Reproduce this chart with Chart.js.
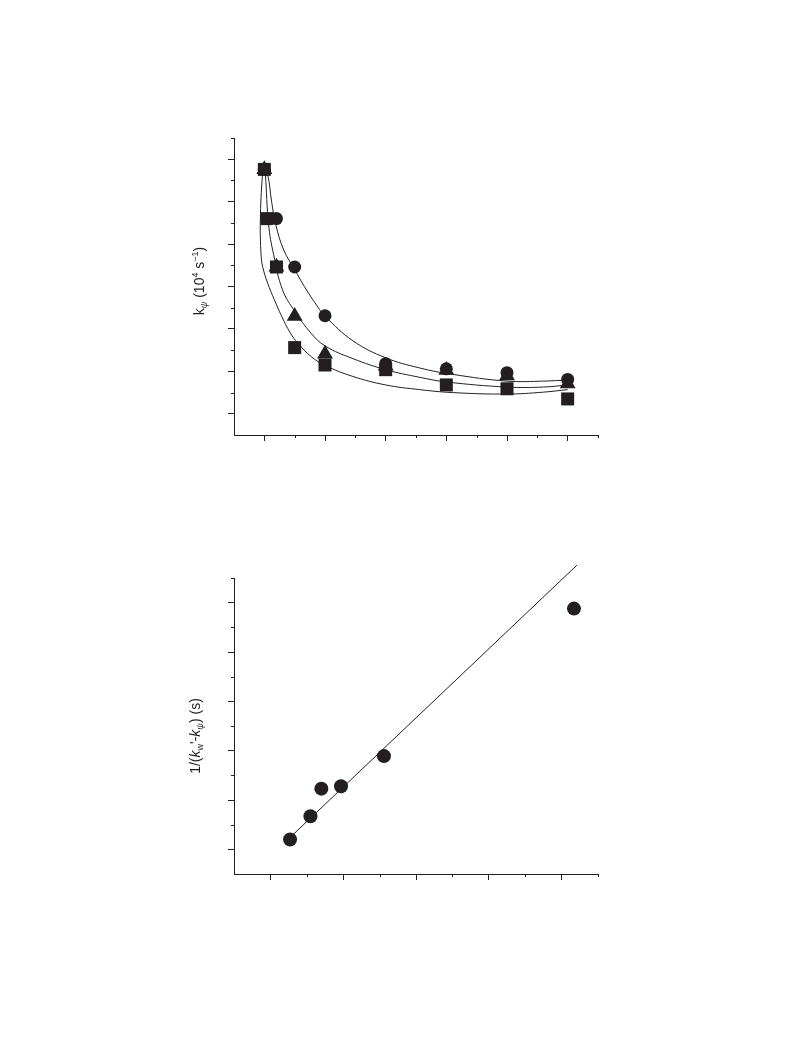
<!DOCTYPE html>
<html>
<head>
<meta charset="utf-8">
<script src="https://cdn.jsdelivr.net/npm/chart.js@4.4.1/dist/chart.umd.min.js"></script>
<style>
  html, body { margin: 0; padding: 0; background: #fff; }
  body { width: 792px; height: 1056px; position: relative; overflow: hidden;
         font-family: "Liberation Sans", Arial, sans-serif; }
  .panel { position: absolute; left: 0; width: 792px; height: 500px; }
  .ylab { position: absolute; white-space: nowrap; font-size: 14px; line-height: 1; color: #231f20;
          transform: translate(-50%, -50%) rotate(-90deg); }
  .ylab sub, .ylab sup { font-size: 9px; line-height: 0; }
  .ylab sub { vertical-align: -3px; }
  .ylab sup { vertical-align: 6px; }
</style>
</head>
<body>
<div class="panel" style="top:0"><canvas id="rateChart" width="792" height="500"></canvas></div>
<div class="panel" style="top:500px"><canvas id="recipChart" width="792" height="500"></canvas></div>
<div class="ylab" style="left:199px;top:281px">k<sub><i>ψ</i></sub> (10<sup>4</sup> s<sup>−1</sup>)</div>
<div class="ylab" style="left:195px;top:736px">1/(<i>k</i><sub>w</sub>'-<i>k</i><sub><i>ψ</i></sub>) (s)</div>

<script>
// ---- upper panel: observed rate constants, three series ----
const circleX   = [0, 0.2, 0.5, 1, 2, 3, 4, 5];
const circleY   = [5.76, 4.60, 3.46, 2.31, 1.18, 1.06, 0.97, 0.81];
const triangleX = [0, 0.2, 0.5, 1, 2, 3, 4, 5];
const triangleY = [5.76, 3.46, 2.30, 1.41, 1.13, 1.03, 0.90, 0.71];
const squareX   = [0, 0.04, 0.2, 0.5, 1, 2, 3, 4, 5];
const squareY   = [5.76, 4.60, 3.46, 1.56, 1.15, 1.04, 0.68, 0.59, 0.35];

// fitted curves for each series
const circleFitX   = [0, 0.055, 0.12, 0.19, 0.32, 0.5, 0.66, 0.88, 1.0, 1.46, 2.0, 2.56, 3.1, 4.0, 4.6, 5.0];
const circleFitY   = [5.76, 5.64, 5.0, 4.45, 3.86, 3.40, 3.0, 2.52, 2.3, 1.72, 1.32, 1.08, 0.93, 0.77, 0.77, 0.80];
const triangleFitX = [0, 0.017, 0.07, 0.153, 0.3, 0.5, 0.77, 1.0, 1.46, 2.0, 2.56, 3.0, 4.0, 4.6, 5.0];
const triangleFitY = [5.76, 5.64, 4.46, 3.75, 2.92, 2.42, 1.90, 1.60, 1.30, 1.04, 0.86, 0.75, 0.63, 0.63, 0.68];
const squareFitX   = [0, -0.03, -0.066, -0.054, -0.028, 0.054, 0.165, 0.285, 0.43, 0.55, 0.77, 1.0, 1.46, 2.0, 2.56, 3.1, 4.0, 4.6, 5.0];
const squareFitY   = [5.76, 5.64, 4.54, 3.75, 3.47, 3.08, 2.69, 2.30, 1.90, 1.67, 1.35, 1.14, 0.88, 0.68, 0.57, 0.50, 0.465, 0.51, 0.57];

const rateMajorX = [0, 1, 2, 3, 4, 5];
const rateMinorX = [0.5, 1.5, 2.5, 3.5, 4.5, 5.5];
const rateMajorY = [0, 1, 2, 3, 4, 5, 6];
const rateMinorY = [0.5, 1.5, 2.5, 3.5, 4.5, 5.5, 6.5];

// ---- lower panel: reciprocal plot with linear fit ----
const recipX = [0.27, 0.55, 0.70, 0.97, 1.56, 4.17];
const recipY = [0.20, 0.67, 1.23, 1.28, 1.89, 4.88];
const lineX  = [0.27, 4.21];
const lineY  = [0.24, 5.76];

const recipMajorX = [0, 1, 2, 3, 4];
const recipMinorX = [0.5, 1.5, 2.5, 3.5, 4.5];
const recipMajorY = [0, 1, 2, 3, 4, 5];
const recipMinorY = [0.5, 1.5, 2.5, 3.5, 4.5, 5.5];

const INK = '#231f20';

const pts = (xs, ys) => xs.map((x, i) => ({ x, y: ys[i] }));

// short minor tick marks drawn outward from both axes
const minorTicks = {
  id: 'minorTicks',
  afterDraw(chart, args, opts) {
    const { ctx, chartArea } = chart;
    const xs = chart.scales.x, ys = chart.scales.y;
    ctx.save();
    ctx.strokeStyle = INK;
    ctx.lineWidth = 1;
    ctx.beginPath();
    opts.x.forEach(v => {
      const px = Math.round(xs.getPixelForValue(v)) + 0.5;
      ctx.moveTo(px, chartArea.bottom);
      ctx.lineTo(px, chartArea.bottom + opts.len);
    });
    opts.y.forEach(v => {
      const py = Math.round(ys.getPixelForValue(v)) + 0.5;
      ctx.moveTo(chartArea.left, py);
      ctx.lineTo(chartArea.left - opts.len, py);
    });
    ctx.stroke();
    ctx.restore();
  }
};

function axis(min, max, majors, isX) {
  return {
    type: 'linear',
    min, max,
    afterBuildTicks: s => { s.ticks = majors.map(v => ({ value: v })); },
    afterFit: s => { if (isX) s.height = 30; else s.width = 40; },
    ticks: { display: false },
    grid: { display: true, drawOnChartArea: false, drawTicks: true, tickLength: 6,
            tickColor: INK, tickWidth: 1 },
    border: { display: true, color: INK, width: 1 }
  };
}

function markers(data, style, radius) {
  return { type: 'scatter', data, showLine: false, pointStyle: style, pointRadius: radius,
           pointBackgroundColor: INK, pointBorderWidth: 0, order: 0 };
}

function curve(data) {
  return { type: 'line', data, showLine: true, borderColor: INK, borderWidth: 1,
           pointRadius: 0, tension: 0.4, fill: false, order: 1 };
}

const common = {
  responsive: false,
  animation: false,
  devicePixelRatio: 1,
  plugins: { legend: { display: false }, tooltip: { enabled: false } }
};

new Chart(document.getElementById('rateChart'), {
  type: 'scatter',
  data: {
    datasets: [
      markers(pts(circleX, circleY), 'circle', 6.5),
      markers(pts(triangleX, triangleY), 'triangle', 9.2),
      markers(pts(squareX, squareY), 'rect', 9.2),
      curve(pts(circleFitX, circleFitY)),
      curve(pts(triangleFitX, triangleFitY)),
      curve(pts(squareFitX, squareFitY))
    ]
  },
  options: Object.assign({}, common, {
    layout: { padding: { left: 194, right: 194, top: 138, bottom: 35 } },
    scales: {
      x: axis(-0.5, 5.5, rateMajorX, true),
      y: axis(-0.5, 6.5, rateMajorY, false)
    },
    plugins: Object.assign({}, common.plugins, {
      minorTicks: { x: rateMinorX, y: rateMinorY, len: 3 }
    })
  }),
  plugins: [minorTicks]
});

new Chart(document.getElementById('recipChart'), {
  type: 'scatter',
  data: {
    datasets: [
      markers(pts(recipX, recipY), 'circle', 7),
      Object.assign(curve(pts(lineX, lineY)), { tension: 0, clip: false })
    ]
  },
  options: Object.assign({}, common, {
    layout: { padding: { left: 194, right: 194, top: 78, bottom: 96 } },
    scales: {
      x: axis(-0.5, 4.5, recipMajorX, true),
      y: axis(-0.5, 5.5, recipMajorY, false)
    },
    plugins: Object.assign({}, common.plugins, {
      minorTicks: { x: recipMinorX, y: recipMinorY, len: 3 }
    })
  }),
  plugins: [minorTicks]
});
</script>
</body>
</html>
